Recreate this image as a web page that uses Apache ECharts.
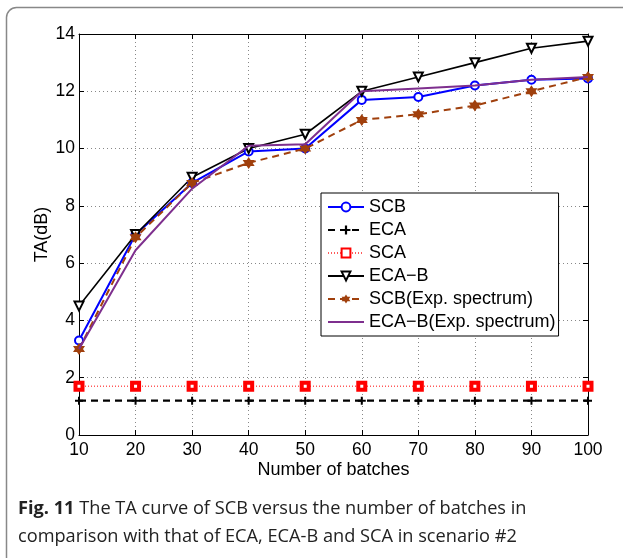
<!DOCTYPE html>
<html><head><meta charset="utf-8">
<script src="https://cdn.jsdelivr.net/npm/echarts@6/dist/echarts.min.js"></script>
<style>html,body{margin:0;padding:0;background:#fff}#c{width:623px;height:558px}</style>
</head><body><div id="c"></div>
<script>
const batches = [10, 20, 30, 40, 50, 60, 70, 80, 90, 100];
const scb = [3.3, 7.0, 8.8, 9.9, 10.0, 11.7, 11.8, 12.2, 12.4, 12.45];
const eca = [1.2, 1.2, 1.2, 1.2, 1.2, 1.2, 1.2, 1.2, 1.2, 1.2];
const sca = [1.7, 1.7, 1.7, 1.7, 1.7, 1.7, 1.7, 1.7, 1.7, 1.7];
const ecaB = [4.5, 7.0, 9.0, 10.0, 10.5, 12.0, 12.5, 13.0, 13.5, 13.75];
const scbExp = [3.0, 6.9, 8.8, 9.5, 10.0, 11.0, 11.2, 11.5, 12.0, 12.5];
const ecaBExp = [3.0, 6.45, 8.6, 10.1, 10.15, 12.0, 12.1, 12.2, 12.4, 12.5];
const seriesNames = ['SCB', 'ECA', 'SCA', 'ECA\u2212B', 'SCB(Exp. spectrum)', 'ECA\u2212B(Exp. spectrum)'];
const yTicks = [0, 2, 4, 6, 8, 10, 12, 14];

const pair = arr => batches.map((b, i) => [b, arr[i]]);
const font = '"Liberation Sans", Arial, Helvetica, sans-serif';
const hexagram = 'path://M0,-10 L2.9,-5 L8.66,-5 L5.8,0 L8.66,5 L2.9,5 L0,10 L-2.9,5 L-8.66,5 L-5.8,0 L-8.66,-5 L-2.9,-5 Z';
const plus = 'path://M-1,-4 L1,-4 L1,-1 L4,-1 L4,1 L1,1 L1,4 L-1,4 L-1,1 L-4,1 L-4,-1 L-1,-1 Z';

const chart = echarts.init(document.getElementById('c'), null, {renderer: 'canvas'});
chart.setOption({
  animation: false,
  backgroundColor: '#fff',
  grid: {left: 79, right: 35, top: 34, bottom: 123, containLabel: false},
  xAxis: [{
    type: 'value', min: 10, max: 100, interval: 10,
    name: 'Number of batches', nameLocation: 'middle', nameGap: 26, nameMoveOverlap: false,
    nameTextStyle: {fontFamily: font, fontSize: 18, color: '#000'},
    axisLine: {onZero: false, lineStyle: {color: '#000', width: 1}},
    axisTick: {inside: true, length: 5, lineStyle: {color: '#000'}},
    axisLabel: {fontFamily: font, fontSize: 17.5, color: '#000', margin: 6},
    splitLine: {show: true, lineStyle: {color: '#888', type: [1, 3], width: 1}}
  }, {
    type: 'value', min: 10, max: 100, interval: 10, position: 'top',
    axisLine: {onZero: false, lineStyle: {color: '#000', width: 1}},
    axisTick: {inside: true, length: 5, lineStyle: {color: '#000'}},
    axisLabel: {show: false}, splitLine: {show: false}
  }],
  yAxis: [{
    type: 'value', min: 0, max: 14, interval: 2,
    name: 'TA(dB)', nameLocation: 'middle', nameGap: 28, nameMoveOverlap: false,
    nameTextStyle: {fontFamily: font, fontSize: 18, color: '#000'},
    axisLine: {onZero: false, lineStyle: {color: '#000', width: 1}},
    axisTick: {inside: true, length: 5, lineStyle: {color: '#000'}},
    axisLabel: {fontFamily: font, fontSize: 17.5, color: '#000', margin: 4,
      formatter: v => yTicks.includes(v) ? String(v) : ''},
    splitLine: {show: true, lineStyle: {color: '#888', type: [1, 3], width: 1}}
  }, {
    type: 'value', min: 0, max: 14, interval: 2, position: 'right',
    axisLine: {onZero: false, lineStyle: {color: '#000', width: 1}},
    axisTick: {inside: true, length: 5, lineStyle: {color: '#000'}},
    axisLabel: {show: false}, splitLine: {show: false}
  }],
  legend: {
    orient: 'vertical', left: 321, top: 193,
    data: seriesNames.map((n, i) => i === 5 ? {name: n, itemStyle: {opacity: 0}} : {name: n}),
    backgroundColor: '#fff', borderColor: '#000', borderWidth: 1,
    padding: [5, 3, 5, 6], itemWidth: 36, itemHeight: 11, itemGap: 5,
    textStyle: {fontFamily: font, fontSize: 18, color: '#000', lineHeight: 18}
  },
  series: [
    {name: seriesNames[0], type: 'line', data: pair(scb), clip: false,
     lineStyle: {color: '#0000ff', width: 2}, itemStyle: {color: '#fff', borderColor: '#0000ff', borderWidth: 2},
     symbol: 'circle', symbolSize: 8, z: 3},
    {name: seriesNames[1], type: 'line', data: pair(eca), clip: false,
     lineStyle: {color: '#000', width: 2.2, type: [7, 5]}, itemStyle: {color: '#000'},
     symbol: plus, symbolSize: 8, z: 2},
    {name: seriesNames[2], type: 'line', data: pair(sca), clip: false,
     lineStyle: {color: '#ff5a5a', width: 1.6, type: [1, 2]}, itemStyle: {color: '#fff', borderColor: '#ff0000', borderWidth: 4},
     symbol: 'rect', symbolSize: 7, z: 2},
    {name: seriesNames[3], type: 'line', data: pair(ecaB), clip: false,
     lineStyle: {color: '#000', width: 1.6}, itemStyle: {color: '#fff', borderColor: '#000', borderWidth: 2},
     symbol: 'triangle', symbolRotate: 180, symbolSize: 9, z: 3},
    {name: seriesNames[4], type: 'line', data: pair(scbExp), clip: false,
     lineStyle: {color: '#a0400d', width: 2, type: [7, 5]}, itemStyle: {color: '#a0400d'},
     symbol: hexagram, symbolSize: 12, z: 4},
    {name: seriesNames[5], type: 'line', data: pair(ecaBExp), clip: false,
     lineStyle: {color: '#7e2f8e', width: 2}, itemStyle: {color: '#7e2f8e'},
     symbol: 'none', z: 5}
  ],
  graphic: [
    {type: 'rect', left: 4, top: 5, shape: {width: 700, height: 700, r: 10}, z: -10,
     style: {fill: 'none', stroke: '#888', lineWidth: 1.5}},
    {type: 'text', left: 18, top: 495, z: 10,
     style: {text: '{b|Fig. 11} The TA curve of SCB versus the number of batches in\ncomparison with that of ECA, ECA-B and SCA in scenario #2',
       fill: '#222', font: '18.2px "Open Sans"', lineHeight: 28,
       rich: {b: {fontWeight: 'bold', fontFamily: 'Open Sans', fontSize: 18.2, fill: '#222'}}}}
  ]
});
</script></body></html>
